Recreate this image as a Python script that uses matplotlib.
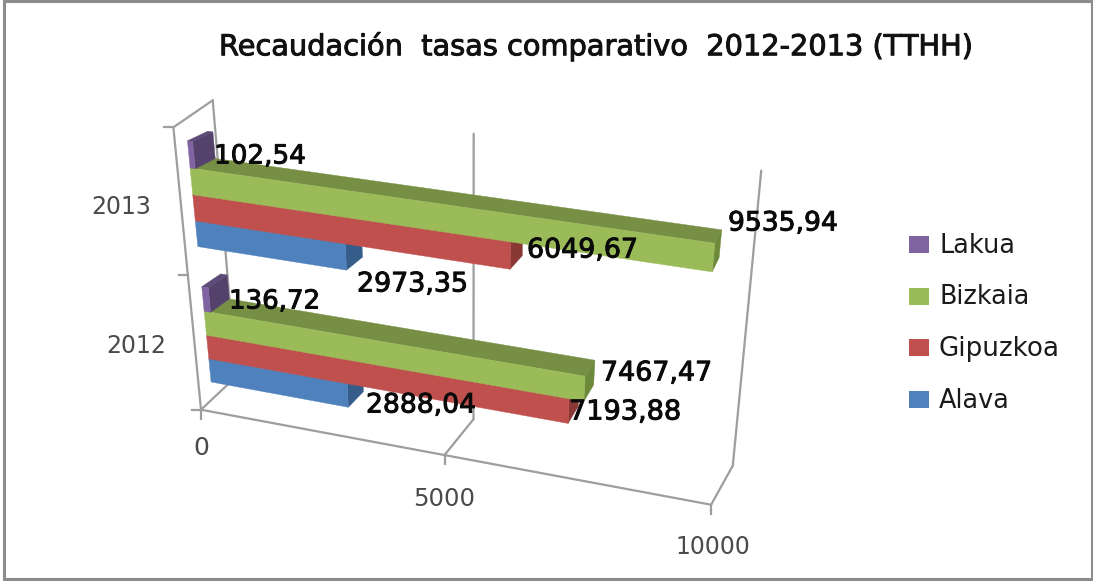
import numpy as np
import matplotlib
matplotlib.use("Agg")
import matplotlib.pyplot as plt
import matplotlib.patheffects as pe
from matplotlib.patches import Polygon, Rectangle

# ---------- data ----------
years = ["2012", "2013"]
series = ["Alava", "Gipuzkoa", "Bizkaia", "Lakua"]
alava = [2888.04, 2973.35]
gipuzkoa = [7193.88, 6049.67]
bizkaia = [7467.47, 9535.94]
lakua = [136.72, 102.54]
value_ticks = [0, 5000, 10000]
title = "Recaudación  tasas comparativo  2012-2013 (TTHH)"

# ---------- styles ----------
front_col = ["#4F81BD", "#C0504D", "#9BBB59", "#8064A2"]
top_col = ["#3F6797", "#9A403E", "#778F45", "#5E4A78"]
side_col = ["#365C8A", "#8A3836", "#6C8A3A", "#54416C"]
grid_col = "#9E9E9E"
tick_text = "#4A4A4A"
FONT = "DejaVu Sans"
VMAX = 10000.0
GROUP_STEP = 5.6   # one cluster of four bars plus the gap, in bar heights

# ---------- oblique perspective of the 3-D chart, fitted to the wall corners / bar edges ----------
frame_cal = [
    ((0, 0, 0), (201, 408)), ((1, 0, 0), (711, 506)), ((1, 1, 0), (733, 464)),
    ((0, 1, 0), (236, 378)), ((0, 0, 1), (173, 128)), ((0, 1, 1), (213, 100)),
    ((1, 1, 1), (761, 171)), ((.5, 1, 1), (474, 133)), ((.5, 1, 0), (473, 420)),
    ((.5, 0, 0), (445, 455)),
]
g = GROUP_STEP
bar_cal = [
    ((0, 0, 0), (210, 382)), ((0, 0, 1), (209, 359)), ((0, 0, 2), (206, 335)),
    ((0, 0, 3), (204, 311)), ((0, 0, 4), (202, 287)),
    ((0, 0, g), (198, 247)), ((0, 0, g + 1), (195, 222)), ((0, 0, g + 2), (193, 195)),
    ((0, 0, g + 3), (190, 168)), ((0, 0, g + 4), (187, 141)),
    ((0, 1, 3), (228, 299)), ((0, 1, g + 3), (212, 157)),
    ((0, 1, g + 4), (207, 129)), ((0, 1, 4), (220, 273)),
    ((.288804, 0, 0), (348, 407)), ((.288804, 0, 1), (347, 383)), ((.288804, 1, 0), (361, 393)),
    ((.297335, 0, g), (347, 270)), ((.297335, 0, g + 1), (345, 245)), ((.297335, 1, g), (359, 257)),
    ((.604967, 0, g + 1), (510, 269)), ((.604967, 0, g + 2), (511, 244)), ((.604967, 1, g + 1), (522, 255)),
    ((.953594, 0, g + 2), (712, 272)), ((.953594, 0, g + 3), (714, 242)),
    ((.953594, 1, g + 3), (723, 230)), ((.953594, 1, g + 2), (718, 260)),
    ((.746747, 0, 2), (584, 400)), ((.746747, 0, 3), (586, 375)),
    ((.746747, 1, 3), (595, 360)), ((.746747, 1, 2), (594, 385)),
    ((.719388, 0, 1), (569, 422)), ((.719388, 0, 2), (570, 400)),
]


def fit_camera(cal):
    rows = []
    for (x, y, z), (px, py) in cal:
        X = [x, y, z, 1]
        rows.append(X + [0, 0, 0, 0] + [-px * c for c in X])
        rows.append([0, 0, 0, 0] + X + [-py * c for c in X])
    _, _, vt = np.linalg.svd(np.array(rows, float))
    return vt[-1].reshape(3, 4)


P_frame = fit_camera(frame_cal)
P_bar = fit_camera(bar_cal)


def project(P, x, y, z):
    w = P @ np.array([x, y, z, 1.0])
    return w[0] / w[2], w[1] / w[2]


# ---------- figure ----------
fig = plt.figure(figsize=(10.93, 5.81), dpi=100, facecolor="white")
ax = fig.add_axes([0, 0, 1, 1])
ax.set_xlim(0, 1093)
ax.set_ylim(581, 0)
ax.axis("off")
ax.add_patch(Rectangle((4, 1), 1088, 578, fill=False, ec="#8C8C8C", lw=2.2, zorder=1))


def wall(a, b):
    p, q = project(P_frame, *a), project(P_frame, *b)
    ax.plot([p[0], q[0]], [p[1], q[1]], color=grid_col, lw=1.6, solid_capstyle="round", zorder=2)


wall((0, 0, 0), (1, 0, 0))
wall((0, 0, 0), (0, 1, 0))
wall((0, 0, 0), (0, 0, 1))
wall((0, 0, 1), (0, 1, 1))
wall((0, 1, 1), (0, 1, 0))
wall((1, 0, 0), (1, 1, 0))
wall((1, 1, 0), (1, 1, 1))
wall((.5, 0, 0), (.5, 1, 0))
wall((.5, 1, 0), (.5, 1, 1))

for v in value_ticks:
    px, py = project(P_frame, v / VMAX, 0, 0)
    ax.plot([px, px], [py, py + 9], color=grid_col, lw=1.6, zorder=2)
for h in (0, .5, 1):
    px, py = project(P_frame, 0, 0, h)
    ax.plot([px - 9, px], [py, py], color=grid_col, lw=1.6, zorder=2)


# ---------- bars ----------
def poly(P, pts, color, z):
    ax.add_patch(Polygon([project(P, *p) for p in pts], closed=True, fc=color, ec=color, lw=0.3, zorder=z))


all_values = [alava, gipuzkoa, bizkaia, lakua]
z = 3.0
for yi in range(len(years)):
    for si, vals in enumerate(all_values):
        u = vals[yi] / VMAX
        h0 = yi * GROUP_STEP + si
        h1 = h0 + 1
        poly(P_bar, [(u, 0, h0), (u, 1, h0), (u, 1, h1), (u, 0, h1)], side_col[si], z)
        poly(P_bar, [(0, 0, h1), (u, 0, h1), (u, 1, h1), (0, 1, h1)], top_col[si], z + .01)
        poly(P_bar, [(0, 0, h0), (u, 0, h0), (u, 0, h1), (0, 0, h1)], front_col[si], z + .02)
        z += .1

renderer = fig.canvas.get_renderer()


def fitted(s, x0, x1, yc, size, stroke=0.0, color="#111111"):
    t = ax.text(x0, yc - 1.5, s, family=FONT, fontsize=size, color=color,
                va="center_baseline", ha="left", zorder=10)
    w = t.get_window_extent(renderer).width
    t.set_fontsize(size * (x1 - x0) / w)
    if stroke:
        t.set_path_effects([pe.withStroke(linewidth=stroke, foreground=color)])
    return t


# ---------- title ----------
fitted(title, 219, 973, 45, 17, stroke=0.7, color="#111111")


# ---------- data labels ----------
def fmt(v):
    return f"{v:.2f}".replace(".", ",")


label_boxes = {
    (0, 0): (366, 476, 404), (1, 0): (357, 468, 283),
    (0, 1): (569, 681, 411), (1, 1): (527, 638, 249),
    (0, 2): (601, 712, 372), (1, 2): (728, 838, 222),
    (0, 3): (229, 320, 300), (1, 3): (214, 306, 155),
}
for (yi, si), (x0, x1, yc) in label_boxes.items():
    fitted(fmt(all_values[si][yi]), x0, x1, yc, 16, stroke=0.7, color="#0A0A0A")

# ---------- axis labels ----------
year_boxes = [(106, 166, 345), (91, 151, 206)]
for s, (x0, x1, yc) in zip(years, year_boxes):
    fitted(s, x0, x1, yc, 15, color=tick_text)
value_boxes = [(193, 209, 447), (413, 475, 498), (675, 750, 546)]
for v, (x0, x1, yc) in zip(value_ticks, value_boxes):
    fitted(str(v), x0, x1, yc, 15, color=tick_text)

# ---------- legend ----------
legend_rows = [(3, 244.5, 1015), (2, 296, 1030), (1, 347, 1060), (0, 399, 1010)]
for si, yc, x1 in legend_rows:
    ax.add_patch(Rectangle((909, yc - 8.5), 19.5, 17, fc=front_col[si], ec="none", zorder=6))
    fitted(series[si], 939, x1, yc, 16, color="#1A1A1A")

fig.savefig("out.png", dpi=100, facecolor="white")
